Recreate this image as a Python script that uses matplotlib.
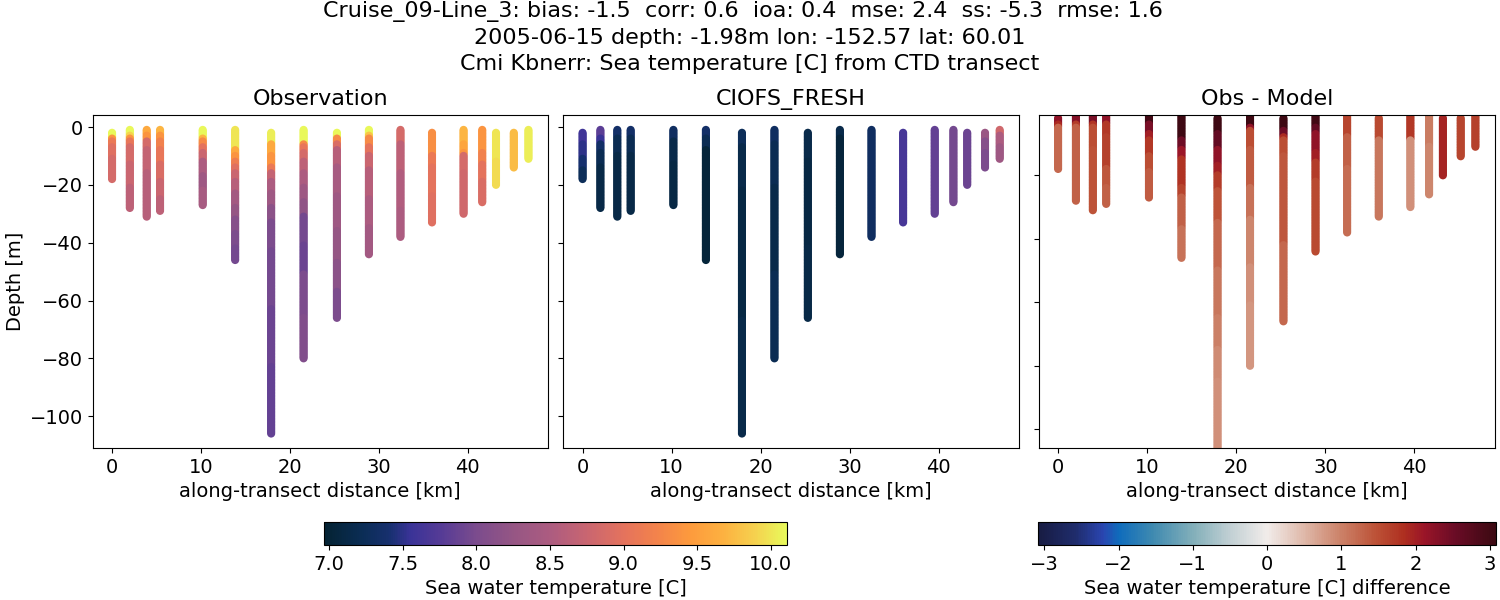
import numpy as np
import matplotlib
matplotlib.use("Agg")
import matplotlib.pyplot as plt
from matplotlib.colors import LinearSegmentedColormap, Normalize
from matplotlib.cm import ScalarMappable

# Station positions and top sample depth, from the reference
distance_km = [0, 2, 3.9, 5.4, 10.2, 13.85, 17.9, 21.55, 25.3, 28.9, 32.45, 36.0, 39.55, 41.65, 43.2, 45.2, 46.85]
top_depth = [2, 1, 1, 1, 1, 1, 2, 1, 2, 1, 1, 2, 1, 1, 2, 2, 1]

# Profiles written as (value, number of metres) from the surface down
obs_runs = [
    [(10.1,2),(9.4,1),(9.1,2),(8.95,4),(8.85,8)],
    [(10.1,2),(9.9,1),(9.4,1),(9.05,2),(8.85,6),(8.75,8),(8.65,8)],
    [(9.6,2),(9.4,2),(8.85,3),(8.7,8),(8.6,16)],
    [(9.7,2),(9.4,2),(9.2,3),(9.05,5),(8.9,6),(8.75,6),(8.65,5)],
    [(10.1,3),(9.7,1),(9.3,2),(9.0,2),(8.75,3),(8.5,5),(8.35,5),(8.45,6)],
    [(10.0,7),(9.6,2),(9.4,2),(9.15,2),(8.95,2),(8.75,3),(8.6,4),(8.4,5),(8.25,4),(8.1,5),(8.0,5),(7.95,5)],
    [(10.05,4),(9.6,4),(9.4,4),(9.1,2),(8.7,3),(8.5,4),(8.35,5),(8.15,5),(8.0,10),(7.95,20),(7.9,20),(7.85,24)],
    [(10.1,5),(9.3,1),(9.05,2),(8.85,3),(8.65,4),(8.5,5),(8.35,5),(8.2,5),(7.95,10),(7.9,10),(8.0,15),(8.05,15)],
    [(10.1,2),(9.3,2),(8.9,2),(8.6,6),(8.45,10),(8.35,12),(8.25,11),(8.15,10),(8.0,10)],
    [(10.1,2),(9.8,1),(9.3,3),(9.0,3),(8.75,5),(8.6,10),(8.5,10),(8.4,10)],
    [(8.85,5),(8.65,10),(8.55,13),(8.5,10)],
    [(9.35,8),(9.1,4),(9.0,10),(8.95,10)],
    [(9.7,5),(9.55,3),(9.4,1),(8.85,6),(8.8,15)],
    [(9.4,8),(9.2,4),(9.0,6),(8.9,8)],
    [(10.0,10),(9.95,9)],
    [(9.75,13)],
    [(10.05,11)],
]
model_runs = [
    [(7.6,4),(7.5,5),(7.4,4),(7.25,4)],
    [(7.8,3),(7.55,2),(7.35,3),(7.2,5),(7.12,15)],
    [(7.35,3),(7.2,6),(7.12,22)],
    [(7.35,3),(7.2,6),(7.12,20)],
    [(7.3,4),(7.15,8),(7.1,15)],
    [(7.35,3),(7.2,4),(7.02,39)],
    [(7.25,5),(7.15,15),(7.1,45),(7.15,40)],
    [(7.3,5),(7.2,15),(7.15,30),(7.2,30)],
    [(7.15,10),(7.1,30),(7.12,25)],
    [(7.15,3),(7.03,41)],
    [(7.3,38)],
    [(7.65,32)],
    [(7.85,30)],
    [(7.95,26)],
    [(7.9,19)],
    [(8.3,3),(8.1,4),(8.0,6)],
    [(8.8,2),(8.5,4),(8.35,5)],
]
diff_runs = [
    [(2.2,2),(1.9,1),(1.25,14)],
    [(2.3,3),(1.7,1),(1.3,24)],
    [(2.4,3),(1.8,1),(1.5,7),(1.45,20)],
    [(2.2,3),(1.75,4),(1.65,10),(1.4,6),(1.3,6)],
    [(3.0,3),(2.4,3),(2.0,2),(1.75,5),(1.5,5),(1.35,9)],
    [(3.05,8),(2.5,3),(2.1,3),(1.8,9),(1.6,3),(1.3,10),(1.15,10)],
    [(3.05,5),(2.6,5),(2.2,5),(2.0,3),(1.7,5),(1.45,10),(1.25,15),(1.1,15),(1.0,10),(0.9,10),(0.85,22)],
    [(3.05,4),(2.2,1),(1.5,6),(1.35,12),(1.15,10),(0.95,15),(0.85,12),(0.8,20)],
    [(3.05,4),(2.5,2),(1.9,1),(1.5,5),(1.4,28),(1.25,25)],
    [(3.0,4),(2.6,2),(2.2,6),(2.0,3),(1.7,6),(1.55,23)],
    [(1.6,7),(1.3,10),(1.2,21)],
    [(1.55,7),(1.1,25)],
    [(1.75,8),(0.85,22)],
    [(1.05,10),(0.95,16)],
    [(1.95,19)],
    [(1.6,13)],
    [(1.65,11)],
]

xticks = [0, 10, 20, 30, 40]
temp_ticks = [7.0, 7.5, 8.0, 8.5, 9.0, 9.5, 10.0]
diff_ticks = [-3, -2, -1, 0, 1, 2, 3]
temp_limits = (6.966, 10.113)
diff_limits = (-3.08, 3.08)

thermal = LinearSegmentedColormap.from_list("thermal_like", [
    (0.00, "#042333"), (0.08, "#0b2d55"), (0.14, "#17306f"), (0.185, "#3a3397"),
    (0.25, "#553b96"), (0.33, "#7c4c8d"), (0.41, "#965684"), (0.49, "#ad5c80"),
    (0.57, "#ca6670"), (0.65, "#e5735c"), (0.72, "#f3834b"), (0.79, "#fd9a3d"),
    (0.86, "#fdb040"), (0.93, "#f6d04e"), (1.00, "#e8fa5b")], N=256)
balance = LinearSegmentedColormap.from_list("balance_like", [
    (0.00, "#181c43"), (0.08, "#1f2c6c"), (0.14, "#2a45b0"), (0.175, "#0f6cbc"),
    (0.25, "#3f8ab0"), (0.34, "#84b0ba"), (0.42, "#c2d0d4"), (0.50, "#f1ecea"),
    (0.58, "#dfb9aa"), (0.66, "#cc8269"), (0.74, "#bc5136"), (0.80, "#ae2f20"),
    (0.845, "#9a1528"), (0.91, "#6b0c26"), (1.00, "#3c0912")], N=256)

plt.rcParams.update({"font.size": 14})
fig = plt.figure(figsize=(15, 6), dpi=100)


def panel_axes(left, right, top=115, bottom=448):
    return fig.add_axes([left / 1500, 1 - bottom / 600, (right - left) / 1500, (bottom - top) / 600])


def draw(ax, runs, cmap, limits):
    for x, top, profile in zip(distance_km, top_depth, runs):
        vals = np.repeat([r[0] for r in profile], [2 * r[1] for r in profile])[:-1]
        depth = -(top + 0.5 * np.arange(len(vals)))
        ax.scatter(np.full(len(vals), x), depth, c=vals, cmap=cmap, vmin=limits[0], vmax=limits[1],
                   s=34, linewidths=0)
    ax.set_xlim(-2.2, 49.05)
    ax.set_xticks(xticks)
    ax.set_xlabel("along-transect distance [km]", fontsize=14)
    ax.tick_params(labelsize=14)


ax1 = panel_axes(92.5, 548)
draw(ax1, obs_runs, thermal, temp_limits)
ax1.set_ylim(-111, 4.15)
ax1.set_ylabel("Depth [m]", fontsize=14, labelpad=3)
ax1.set_title("Observation", fontsize=16, pad=7)

ax2 = panel_axes(563, 1019.3)
draw(ax2, model_runs, thermal, temp_limits)
ax2.set_ylim(-111, 4.15)
ax2.tick_params(labelleft=False)
ax2.set_title("CIOFS_FRESH", fontsize=16, pad=7)

ax3 = panel_axes(1038.5, 1495)
draw(ax3, diff_runs, balance, diff_limits)
ax3.set_ylim(-105.9, -1.0)
ax3.tick_params(labelleft=False)
ax3.set_title("Obs - Model", fontsize=16, pad=7)

cax1 = fig.add_axes([324.3 / 1500, 1 - 545 / 600, 463 / 1500, 23 / 600])
cb1 = fig.colorbar(ScalarMappable(Normalize(*temp_limits), thermal), cax=cax1, orientation="horizontal")
cb1.set_ticks(temp_ticks)
cb1.ax.tick_params(labelsize=14)
cb1.set_label("Sea water temperature [C]", fontsize=14)

cax2 = fig.add_axes([1038.3 / 1500, 1 - 545 / 600, 457.5 / 1500, 23 / 600])
cb2 = fig.colorbar(ScalarMappable(Normalize(*diff_limits), balance), cax=cax2, orientation="horizontal")
cb2.set_ticks(diff_ticks)
cb2.ax.tick_params(labelsize=14)
cb2.set_label("Sea water temperature [C] difference", fontsize=14)

fig.suptitle("Cruise_09-Line_3: bias: -1.5  corr: 0.6  ioa: 0.4  mse: 2.4  ss: -5.3  rmse: 1.6  \n"
             "2005-06-15 depth: -1.98m lon: -152.57 lat: 60.01\n"
             "Cmi Kbnerr: Sea temperature [C] from CTD transect", fontsize=16, y=0.998, va="top",
             linespacing=1.36)

fig.savefig("out.png", dpi=100)
